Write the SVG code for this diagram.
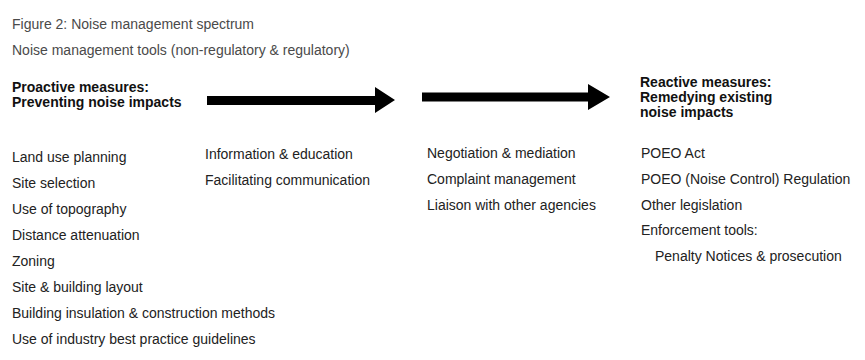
<svg xmlns="http://www.w3.org/2000/svg" width="865" height="360" viewBox="0 0 865 360">
<style>
text{font-family:"Liberation Sans",Arial,sans-serif;font-size:14px;fill:#222}
.title{fill:#4a4a4a}
.bold{font-weight:bold;fill:#111}
.arrow{fill:#000}
</style>
<rect width="865" height="360" fill="#fff"/>
<g id="titles">
<text class="title" x="12" y="29">Figure 2: Noise management spectrum</text>
<text class="title" x="12" y="55">Noise management tools (non-regulatory &amp; regulatory)</text>
</g>
<g id="proactive">
<text class="bold" x="12" y="92">Proactive measures:</text>
<text class="bold" x="12" y="107">Preventing noise impacts</text>
</g>
<g id="reactive">
<text class="bold" x="640" y="87">Reactive measures:</text>
<text class="bold" x="640" y="102">Remedying existing</text>
<text class="bold" x="640" y="117">noise impacts</text>
</g>
<g id="connectors">
<path class="arrow" d="M207,96 H375 V87 L395,100 L375,113 V105 H207 Z"/>
<path class="arrow" d="M422,92.5 H588 V84 L610,97 L588,110 V101.5 H422 Z"/>
</g>
<g id="planning-tools">
<text x="12" y="162">Land use planning</text>
<text x="12" y="188">Site selection</text>
<text x="12" y="214">Use of topography</text>
<text x="12" y="240">Distance attenuation</text>
<text x="12" y="266">Zoning</text>
<text x="12" y="292">Site &amp; building layout</text>
<text x="12" y="318">Building insulation &amp; construction methods</text>
<text x="12" y="344">Use of industry best practice guidelines</text>
</g>
<g id="communication-tools">
<text x="205" y="159">Information &amp; education</text>
<text x="205" y="185">Facilitating communication</text>
</g>
<g id="mediation-tools">
<text x="427" y="158">Negotiation &amp; mediation</text>
<text x="427" y="184">Complaint management</text>
<text x="427" y="210">Liaison with other agencies</text>
</g>
<g id="regulatory-tools">
<text x="641" y="158">POEO Act</text>
<text x="641" y="184">POEO (Noise Control) Regulation</text>
<text x="641" y="210">Other legislation</text>
<text x="641" y="235">Enforcement tools:</text>
<text x="655" y="261">Penalty Notices &amp; prosecution</text>
</g>
</svg>
